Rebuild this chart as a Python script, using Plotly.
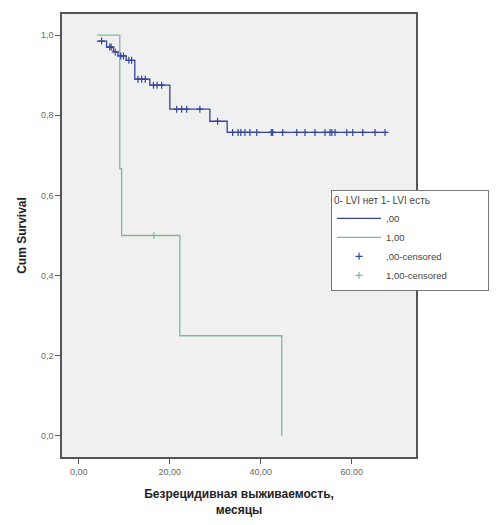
import plotly.graph_objects as go

# ---- data ----
# group ,00 (LVI нет): step points (time in months, cumulative survival)
blue_t = [4.0, 6.1, 7.6, 8.6, 10.4, 12.3, 15.6, 20.0, 28.8, 32.6, 67.6]
blue_s = [0.985, 0.970, 0.958, 0.948, 0.937, 0.890, 0.875, 0.815, 0.785, 0.757, 0.757]
# censored observations for group ,00
blue_ct = [5.0, 6.8, 7.1, 8.0, 9.2, 9.8, 11.0, 11.6, 13.0, 13.8, 14.6, 16.4, 17.2, 18.2,
           21.5, 22.6, 23.7, 26.6, 30.5,
           33.8, 35.0, 35.6, 36.5, 37.6, 39.1, 42.3, 42.6, 44.8, 47.9, 49.7, 51.9, 54.1,
           55.2, 55.6, 56.3, 58.9, 60.2, 62.4, 65.1, 67.3]
blue_cs = [0.985, 0.970, 0.970, 0.958, 0.948, 0.948, 0.937, 0.937, 0.890, 0.890, 0.890,
           0.875, 0.875, 0.875,
           0.815, 0.815, 0.815, 0.815, 0.785,
           0.757, 0.757, 0.757, 0.757, 0.757, 0.757, 0.757, 0.757, 0.757, 0.757, 0.757,
           0.757, 0.757, 0.757, 0.757, 0.757, 0.757, 0.757, 0.757, 0.757, 0.757]

# group 1,00 (LVI есть)
green_t = [4.0, 9.0, 9.4, 22.2, 44.6]
green_s = [1.0, 0.667, 0.5, 0.25, 0.0]
green_ct = [16.5]
green_cs = [0.5]

x_ticks = [0, 20, 40, 60]
y_ticks = [0.0, 0.2, 0.4, 0.6, 0.8, 1.0]

BLUE = "#34449a"
GREEN = "#80b898"

fig = go.Figure()
fig.add_trace(go.Scatter(x=blue_t, y=blue_s, mode="lines", line=dict(color=BLUE, width=1.3, shape="hv"),
                         name=",00"))
fig.add_trace(go.Scatter(x=green_t, y=green_s, mode="lines", line=dict(color=GREEN, width=1.3, shape="hv"),
                         name="1,00"))
fig.add_trace(go.Scatter(x=blue_ct, y=blue_cs, mode="markers",
                         marker=dict(symbol="cross-thin", size=5, color=BLUE, line=dict(color=BLUE, width=1.2)),
                         name=",00-censored"))
fig.add_trace(go.Scatter(x=green_ct, y=green_cs, mode="markers",
                         marker=dict(symbol="cross-thin", size=5, color=GREEN, line=dict(color=GREEN, width=1.2)),
                         name="1,00-censored"))

axis_common = dict(showline=True, linecolor="#555555", linewidth=1.5, mirror=True, automargin=False,
                   ticks="outside", ticklen=5, tickcolor="#555555", showgrid=False, zeroline=False,
                   tickfont=dict(family="Liberation Sans, Arial", size=9, color="#666666"))

# the page body has an 8px margin, so the figure is 8px smaller than the window
fig.update_layout(
    width=492, height=517,
    margin=dict(l=54, r=84, t=6, b=68, autoexpand=False),
    paper_bgcolor="white",
    plot_bgcolor="#f0f0f0",
    separators=", ",
    font=dict(family="Liberation Sans, Arial", color="#333333"),
    xaxis=dict(range=[-3.7, 74.1], tickvals=x_ticks, tickformat=".2f",
               title=dict(text="<b>Безрецидивная выживаемость,<br>месяцы</b>",
                          font=dict(size=12, color="#222222", family="Liberation Sans, Arial"),
                          standoff=14),
               **axis_common),
    yaxis=dict(range=[-0.0525, 1.0525], tickvals=y_ticks, tickformat=".1f",
               title=dict(text="<b>Cum Survival</b>",
                          font=dict(size=12, color="#222222", family="Liberation Sans, Arial"),
                          standoff=12),
               **axis_common),
    legend=dict(x=0.76, y=0.603, xanchor="left", yanchor="top",
                bgcolor="white", bordercolor="#777777", borderwidth=1,
                title=dict(text="0- LVI нет 1- LVI есть<span style='color:white'>" + "_" * 10 + "</span>",
                           font=dict(size=10, color="#444444")),
                font=dict(size=9.5, color="#444444"),
                itemwidth=44),
    showlegend=True,
)

fig.write_html("out.html")
